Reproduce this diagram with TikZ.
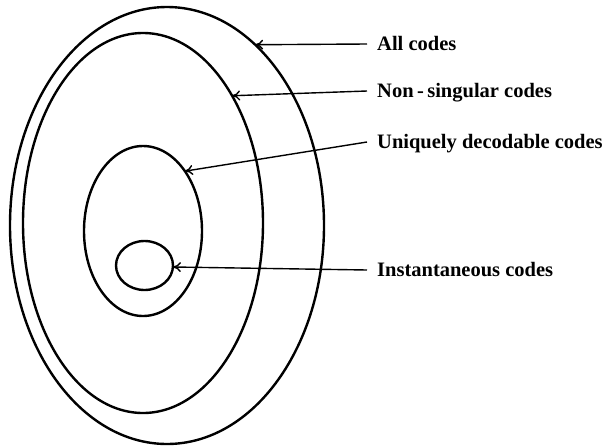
\documentclass[tikz,border=0pt]{standalone}
\usepackage{fontspec}
\setmainfont{Liberation Serif}
\usetikzlibrary{shapes.geometric,arrows.meta}
\begin{document}
\begin{tikzpicture}[x=1pt,y=-1pt,
  setoval/.style={draw, ellipse, line width=2.4pt, inner sep=0pt, outer sep=0pt},
  lbl/.style={anchor=west, inner xsep=10pt, inner ysep=0pt, text height=13pt, text depth=0pt,
    font=\fontsize{20.5}{24}\selectfont\bfseries},
  pointer/.style={line width=1.4pt, {To[length=8pt,width=10pt]}-}]
\useasboundingbox (0,0) rectangle (611,445);
\node[setoval, minimum width=314pt, minimum height=437pt] (all) at (167,225.5) {};
\node[setoval, minimum width=240pt, minimum height=380pt] (ns) at (143,223) {};
\node[setoval, minimum width=118pt, minimum height=170pt] (ud) at (143,231) {};
\node[setoval, minimum width=57pt, minimum height=49pt] (inst) at (144.5,265.5) {};
\node[lbl] (lall) at (367,44) {All codes};
\node[lbl] (lns) at (367,91) {Non\,-\,singular codes};
\node[lbl] (lud) at (367,142) {Uniquely decodable codes};
\node[lbl] (linst) at (367,270) {Instantaneous codes};
\draw[pointer] (all.64.6) -- (lall.west);
\draw[pointer] (ns.55.7) -- (lns.west);
\draw[pointer] (ud.55.5) -- (lud.west);
\draw[pointer] (inst.-3) -- (linst.west);
\end{tikzpicture}
\end{document}
